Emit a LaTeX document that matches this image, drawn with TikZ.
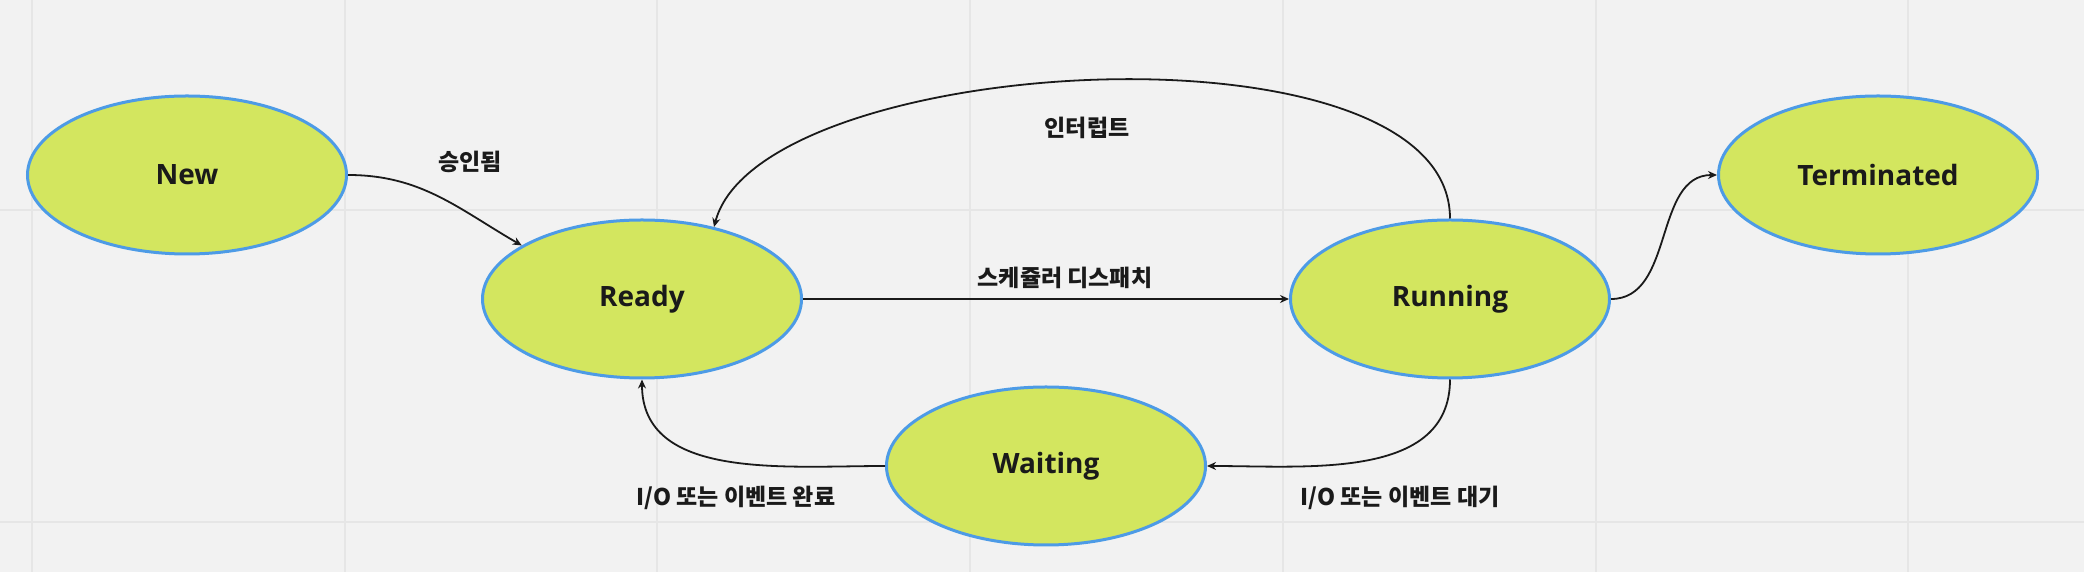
\documentclass[tikz,border=0pt]{standalone}
\usepackage{fontspec}
\setmainfont{Open Sans}
\newfontfamily\krfont{Noto Sans CJK KR}
\usepackage{tikz}
\usetikzlibrary{positioning, arrows.meta, shapes.geometric}
\usepackage{xcolor}
\definecolor{stateFill}{HTML}{D3E65F}
\definecolor{stateLine}{HTML}{4D9BE6}
\definecolor{canvas}{HTML}{F2F2F2}
\definecolor{gridLine}{HTML}{E6E6E6}
\definecolor{ink}{HTML}{1A1A1A}

\begin{document}
\begin{tikzpicture}[x=0.5pt, y=0.5pt,
      state/.style={ellipse, draw=stateLine, fill=stateFill, line width=1.5pt,
          minimum width=159.5pt, minimum height=79pt, inner sep=0pt,
          text=ink, font=\fontsize{14}{16}\selectfont\bfseries},
      lbl/.style={font=\krfont\fontsize{11.5}{13}\selectfont\bfseries,
          text=ink, inner sep=0pt},
      arr/.style={-{Stealth[length=4.5pt, width=4pt]}, line width=0.9pt, ink},
    ]
    % Canvas and grid
    \useasboundingbox (0,0) rectangle (2084,572);
    \fill[canvas] (0,0) rectangle (2084,572);
    \foreach \gx in {32, 345, 657, 970, 1283, 1596, 1908} {
        \draw[gridLine, line width=1pt] (\gx,0) -- (\gx,572);
      }
    \foreach \gy in {50, 362} {
        \draw[gridLine, line width=1pt] (0,\gy) -- (2084,\gy);
      }

    % States
    \node[state] (New) at (187, 397) {New};
    \node[state] (Ready) at (642, 273) {Ready};
    \node[state] (Running) at (1450, 273) {Running};
    \node[state] (Terminated) at (1878, 397) {Terminated};
    \node[state] (Waiting) at (1046, 106) {Waiting};

    % Transition labels
    \node[lbl] (lblAdmit) at (470, 410) {승인됨};
    \node[lbl] (lblIrq) at (1087, 444) {인터럽트};
    \node[lbl] (lblDispatch) at (1065, 294) {스케쥴러 디스패치};
    \node[lbl] (lblDone) at (736, 74) {I/O 또는 이벤트 완료};
    \node[lbl] (lblWait) at (1400, 74) {I/O 또는 이벤트 대기};

    % Transitions
    \draw[arr] (New.east) to[out=0, in=150] (Ready.156);
    \draw[arr] (Ready.east) -- (Running.west);
    \draw[arr] (Running.east) to[out=0, in=180] (Terminated.west);
    \draw[arr] (Running.north) .. controls +(0,205) and +(46,175) .. (Ready.45);
    \draw[arr] (Running.south) to[out=-90, in=0] (Waiting.east);
    \draw[arr] (Waiting.west) to[out=180, in=-90] (Ready.south);
  \end{tikzpicture}
\end{document}
